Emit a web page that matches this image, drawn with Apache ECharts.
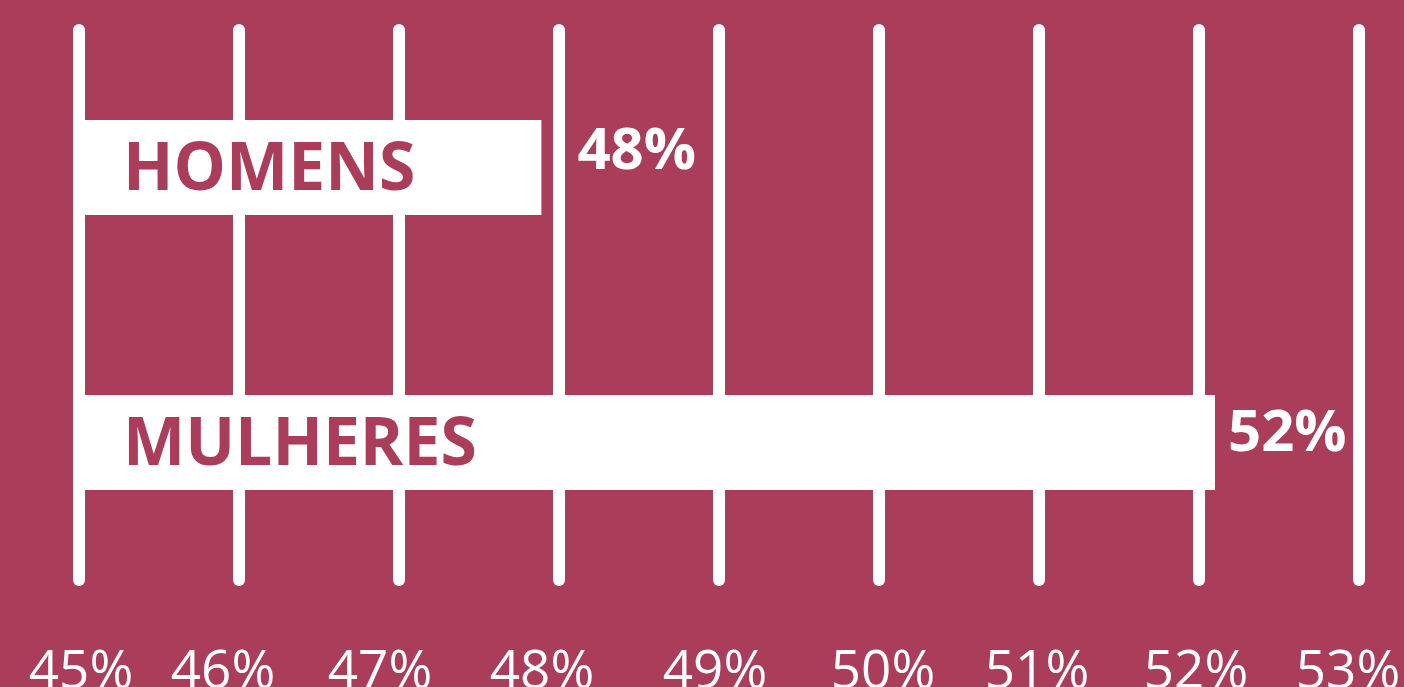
<!DOCTYPE html>
<html>
<head>
<meta charset="utf-8">
<script src="https://cdn.jsdelivr.net/npm/echarts@6/dist/echarts.min.js"></script>
<style>
html,body{margin:0;padding:0;background:#a93d5a;}
#c{width:1404px;height:687px;}
</style>
</head>
<body>
<div id="c"></div>
<script>
const categories = ['HOMENS', 'MULHERES'];
const values = [47.89, 52.1];
const valueLabels = ['48%', '52%'];
const tickMin = 45, tickMax = 53, tickStep = 1;

const BG = '#a93d5a';
const chart = echarts.init(document.getElementById('c'));
const labelDist = [36, 13];
const labelOffY = [-15, -8];
// horizontal nudges of the tick labels (px, positive = right)
const tickShift = [2, -16, -19, -17, -4, 4, -2, -3, -11];

const rich = {};
tickShift.forEach((s, i) => {
  rich['t' + i] = {
    color: '#fff', fontFamily: 'Open Sans', fontSize: 53,
    padding: s >= 0 ? [0, 0, 0, 2 * s] : [0, -2 * s, 0, 0]
  };
});

chart.setOption({
  backgroundColor: BG,
  animation: false,
  grid: { left: 79, right: 45, top: 30, bottom: 107, containLabel: false, outerBoundsMode: 'none' },
  xAxis: {
    type: 'value', min: tickMin, max: tickMax, interval: tickStep, startValue: tickMin,
    axisLine: { show: false }, axisTick: { show: false },
    splitLine: { show: true, lineStyle: { color: '#fff', width: 12, cap: 'round' } },
    axisLabel: {
      color: '#fff', fontFamily: 'Open Sans', fontSize: 53, margin: 66,
      formatter: v => '{t' + Math.round(v - tickMin) + '|' + v + '%}',
      rich: rich
    }
  },
  yAxis: {
    type: 'category', data: categories, inverse: true,
    axisLine: { show: false }, axisTick: { show: false }, axisLabel: { show: false },
    splitLine: { show: false }
  },
  series: [
    {
      type: 'bar', data: values, barWidth: 95, itemStyle: { color: '#fff' },
      label: {
        show: true, position: 'insideLeft', distance: 44, offset: [0, 4],
        formatter: p => categories[p.dataIndex],
        color: BG, fontFamily: 'Open Sans', fontWeight: 'bold', fontSize: 66
      }
    },
    {
      type: 'bar', barGap: '-100%', barWidth: 95, itemStyle: { color: 'rgba(0,0,0,0)' },
      data: values.map((v, i) => ({
        value: v,
        label: { distance: labelDist[i], offset: [0, labelOffY[i]] }
      })),
      label: {
        show: true, position: 'right',
        formatter: p => valueLabels[p.dataIndex],
        color: '#fff', fontFamily: 'Open Sans', fontWeight: 'bold', fontSize: 58
      }
    }
  ]
});
</script>
</body>
</html>
